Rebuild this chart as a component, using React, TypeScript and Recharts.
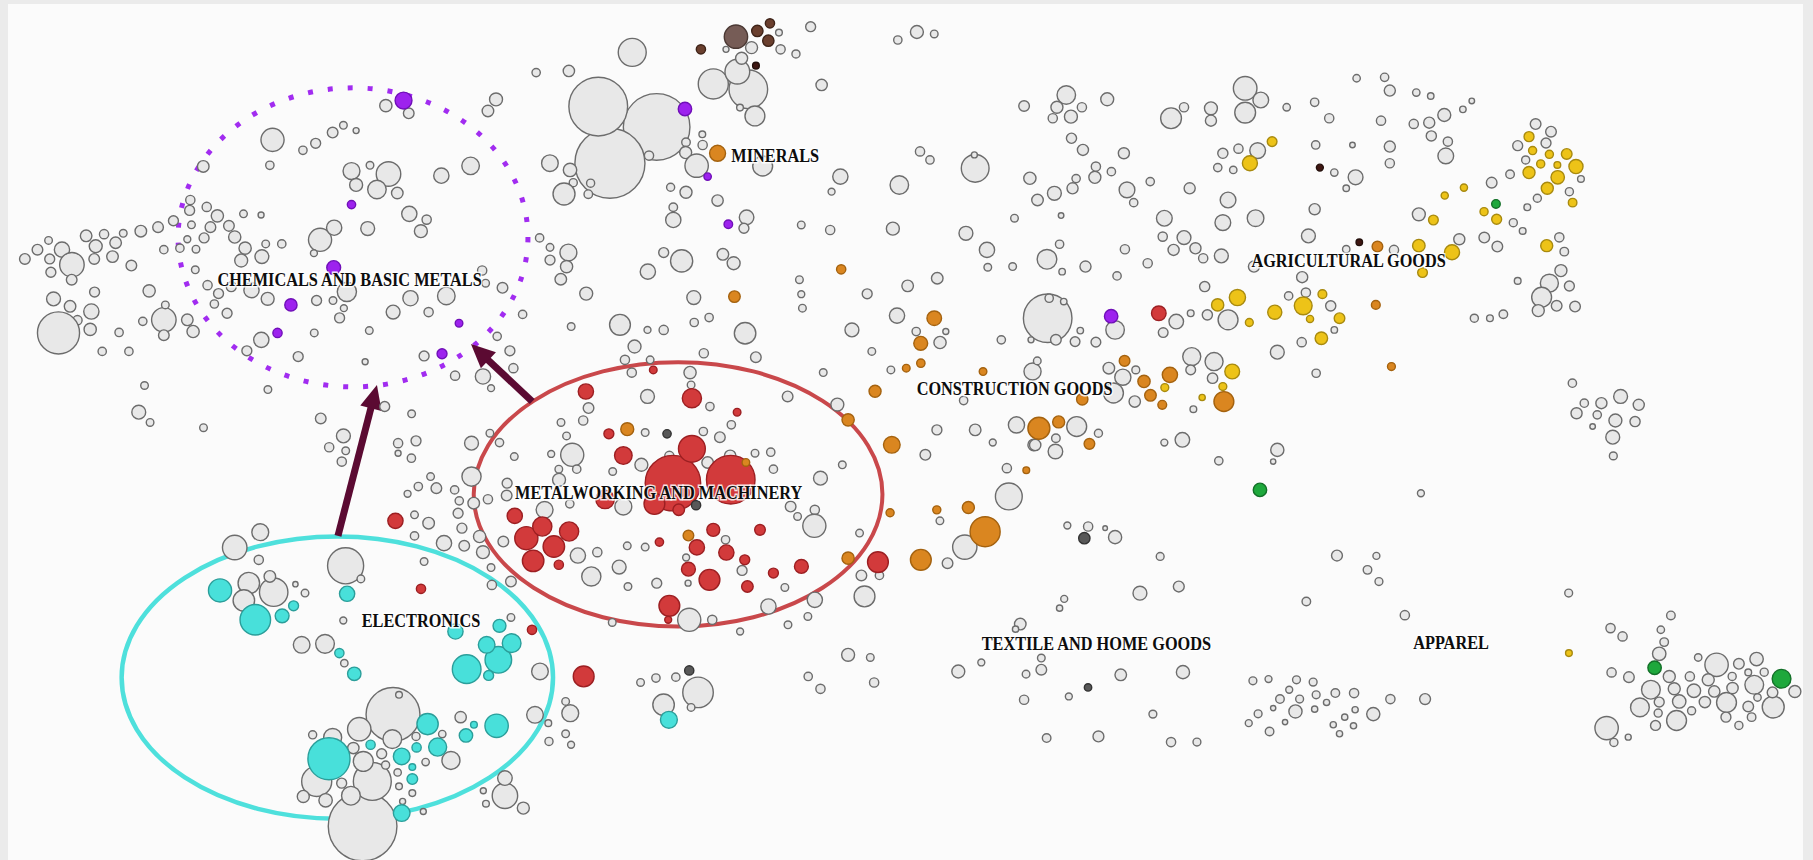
import React from 'react';
import { ScatterChart, Scatter, XAxis, YAxis, ZAxis, ReferenceArea, ReferenceLine } from 'recharts';

type T = [number, number, number];

// Positions (1568 x 744 reference units), r = bubble radius in the same units.
const GRAY_CHEMICALS: T[] = [
  [21.5,224,4.6],[32.4,216,4.6],[42,208,3.3],[43,224,4.3],[44,235.5,4.3],[53.6,216,6.6],[62.2,229,10.6],[62,242,4.6],[74.5,204,5],[82.8,213,5.6],[90,202.6,4],[81.5,224,4.6],[97.3,222,5],[100,210,5],[106.6,201.8,3.3],[113.6,229.7,4.6],[121.8,200,5],[136.7,196.5,4.6],[150,191,4.3],[141.7,216,3.6],[155.6,214.7,3.6],[162,207,3],[165.6,194.5,3.3],[169.5,215.6,3.3],[164,182,4.3],[164.6,173,4],[176.5,205.8,4.3],[178.8,179,4],[182,196.5,4.6],[188,186.7,5.3],[198,195.4,4.6],[203,205,5.3],[210.6,185,3.3],[225.8,186,2.6],[212,214.7,5.3],[208.6,225.4,5.6],[226.5,222,6],[229.8,211,3.3],[243.7,211,3.6],[168.9,233.4,3.3],[179.5,246.7,4],[189,254,4.3],[185.4,263,3.6],[196.4,271,4.3],[200,248,4.3],[217.5,251,6.6],[231.5,258.5,5.6],[276.8,207.5,10],[289,197,6.6],[271.5,219,3],[273.8,260,4.3],[288,260,3.3],[297.4,266.6,3],[293.7,275,4.3],[300,252.5,8.3],[318,197.7,6],[354,185,6.6],[369,190,4],[364,200,5.6],[355,258,6.6],[340,270,6],[370.7,270,4],[386,256,7.6],[417,234,4],[420,245,3.3],[434.6,249,4.6],[452,272,3.6],[466.7,205.8,3.6],[475.7,214,3.3],[475.7,225,4.3],[491.6,218.5,7.3],[490,230.6,5.3],[485,241.6,5],[507,254,5.6],[494,282.5,3.3],[430,291,3.6],[441,303.5,4.3],[444,318.5,4],[417.7,325.7,6.6],[424.7,335.8,3],[393.6,325,4],[366.8,307.9,4.3],[319.4,286,3.3],[315.8,313,2.6],[257.9,308.5,4.3],[271.8,288,3.3],[226,294,6.6],[213.5,303.5,4.3],[333.7,91.4,5.3],[353.5,98,4.6],[235.7,121,10],[233.4,143,3.6],[262,130,3.6],[273,124,4.3],[287.7,114.7,4.6],[297,108.4,3.3],[308,113,2.6],[304,148,7.3],[320,143,3.3],[336,150.5,10.6],[308,160,5.6],[326,164,8],[343.6,167,5],[381.7,152,6.6],[407,143.5,7.6],[463.7,62.8,3.6],[429,86,5.6],[422,96,5],[175.8,144,5],[46.3,258.6,6],[60.6,265,5],[79,269.5,6.6],[67,277,4],[78,285,5.3],[50.6,288,18.2],[81.8,252.7,4.3],[103,287.6,3.6],[88.4,304,3.6],[111.5,304,3.6],[123.5,278,3.6],[129,251.6,5.3],[141.7,276.7,10.6],[141.7,290,4.6],[143,263.8,3.3],[162,276.7,5],[167,286.8,5.3],[125,333.5,3.3],[120,356.6,6],[129.8,365.5,3.3],[176,370,3.3],[231.7,337,3.3],[277.4,362,4.6],[356,358,3.3],[332.7,351.7,4.3]
];

const GRAY_MINERALS: T[] = [
  [567.9,109.8,28.8],[527.5,141.2,30.3],[517.4,92.2,25.4],[546.8,45.3,12.1],[492,61.4,4.9],[475.6,141.2,7.2],[493,147,5.8],[495.8,158,3.5],[510.8,158.5,3.5],[508.8,168,3.7],[487.8,167.8,9.5],[561.3,134.6,4],[593.3,123.1,3.7],[607.4,116.2,2.9],[607.7,125.4,4],[593,132,5.2],[602.5,143.3,10.1],[659.6,143.6,8.6],[580,162,3.5],[593.3,166.3,5.2],[620.6,173.5,4.9],[582.3,179.3,3.7],[582.3,190.3,6.6],[645.7,188,6.3],[643.4,197.5,4.3],[647.2,77.3,16.7],[616.9,72.6,13],[637.7,62,10.7],[650,41.2,5.2],[627.9,42.7,2.6],[675.1,42.7,4],[688.4,46.7,3.5],[701.1,23.1,4.3],[641.4,50.4,5.2],[640,93.1,2.9],[652.9,100.3,8.6],[710.6,73.5,4.9],[673.7,28.2,2.9]
];

const GRAY_CENTER: T[] = [
  [776.5,34.6,3.6],[793,27.7,5.6],[808,29.4,3.3],[885.7,91.7,4.6],[795.7,131,4],[804.3,138.4,3.6],[726.8,152.8,6.6],[719.2,165.8,3],[777.8,160,8],[843.4,145.6,12],[842.7,134,2.6],[890.7,154.2,5.3],[897.3,173,5],[877.4,188.8,3.3],[693,194.6,3.3],[718,199,4],[772.2,197.8,5.6],[835.4,201.8,6],[853.6,216.2,6.6],[854.3,231.2,3.3],[875.8,230.6,3.3],[905.5,224.3,8.5],[574,218.5,4.3],[589.5,225.7,9.6],[560.3,235,6.6],[625.2,220,5],[634.5,227.7,5.6],[600,257.4,6],[691.4,242,3.3],[693,254.5,3],[694,266.6,3.3],[750,254.2,4.3],[785,247.3,5],[810.6,240.7,5],[536.2,281,9],[560,285.4,3],[574,285.4,4],[600.4,279,3.6],[613.3,274.7,3.6],[644.4,288.3,9.3],[736.8,285.4,6],[775.8,273,6.6],[792.4,286.8,3.6],[813,296.3,5.3],[818,286.8,2.6],[770.5,320,3.3],[866,294,3.6],[754,304,3.3],[712,322.3,3.3],[724.2,350,5.6],[681.2,343,4.6],[653.7,309,4.6],[608.7,305.6,4],[596.8,322.3,5.3],[597.7,333,3.3],[560,343,6],[548.8,299.8,5.6],[540.5,311.3,4],[562.3,311.3,3.3],[546.4,322.3,4],[509,353,4.6],[504.4,363.8,4],[485.2,365.5,3.3],[614,351.7,3.6],[632.5,367.5,3.6],
  [558,374.2,3.3],[608.3,373.3,3.6],[622.6,378.2,4.6],[554.7,402.1,5.6],[578.9,394.4,4],[612,400.1,5],[631.5,394.4,5],[653,392.1,3.3],[666.6,391.2,3.6],[668.9,405.9,3.6],[444.8,395,3.3],[529.9,407.9,3.3],[483.5,415.1,5.6],[438.2,428.7,4.6],[409.7,435.3,5],[516.6,477.7,4],[492.8,435.9,3.6],[539.1,438.2,7.3],[535.5,490.6,6],[543.1,507.4,3.3],[542.5,472.2,3.3],[558,473.3,3.3],[568,504.5,4.3],[593.4,482.3,3],[627.5,467,3.6],[595.1,504.5,2.6],[641.8,493.5,4.3],[678.8,508.2,3.3],[683.8,438.2,4.6],[689.8,446.8,3.3],[704.7,441.1,4],[704.3,454.9,10],[709.6,413.7,6],[728.5,402.1,3.3],[743.4,461.2,3.3],[745,497.8,4.6],[760.6,497.8,3.6],[747.7,516,9],[812.9,450.6,3.3],[834.4,473.3,10.5],[819.5,487.2,4.6],[800.3,393.5,4.6],[843.4,371.9,5],[810.3,371.9,4.3],[858.6,382.8,3],[879.1,367.6,7],[894,384.9,5],[870.8,405,4],[872.5,429.5,11.6],[833.4,346.5,3.6],[704.7,518.9,6.6],[664.6,524.7,6.6],[698.7,533.3,3.3],[681.5,540.5,3.3],[640.1,546.3,3],[616,536.2,4],[596.1,536.2,10],[529.5,538.5,3.3],[882.4,539.9,5],[733.5,566.5,5.6],[752.7,568.8,3.3],[756,590.4,4],[709.6,595.9,4],[699,585.2,3.6],[828.8,580.9,5.6],[848.7,573.1,3],[885.7,605.4,4],[900.6,569.3,3.3],[900.6,579.4,4.6],[887.4,583.2,3.3],[603.7,599,13.2],[573.9,609.7,9.3],[597.7,612,3.3],[554,590.4,3.3],[567.3,586.6,3.6],[584.5,585.8,3.6]
];

const GRAY_NORTHEAST: T[] = [
  [906.1,275.3,21],[922.2,82.2,8],[914.1,92.8,5.2],[926.2,100.9,5.6],[910.5,102.3,4],[935.7,92.8,4],[957.6,85.9,5.6],[1012.8,102.3,9],[1024,92.8,4],[1047.3,93.7,5.6],[1047.3,104.4,4.8],[1076.9,76.4,10.2],[1090.4,86.5,6.8],[1076.9,97.4,9],[1112.8,92.8,3.2],[1137,88.5,3.6],[1149.6,102.3,4],[1173.3,67.7,3.2],[1197.5,66.9,3.6],[1202,78.4,4.8],[1224.9,80.1,3.2],[1237.4,83,2.8],[1194.4,104.4,4],[1222.7,107.2,4],[1236.1,106.1,4.8],[1249.1,99.5,5.6],[1265.2,94.6,2.8],[1272.9,87.3,2.4],[926.7,119.6,4.4],[936.6,129.7,4.8],[972,132.6,4.8],[1057.6,132.6,4.4],[1071.1,128.6,4],[1087.7,130.3,6.8],[1053.2,145,3.6],[1066.6,147,3.2],[1137.9,125.4,3.6],[1169.7,125.4,2.4],[1202,126.8,4.8],[1202,141.2,4],[1237.9,117.6,4.4],[1252.2,122.5,4],[1250.4,134.9,6.8],[1154,149.3,3.2],[1172.4,153.4,6.4],[1164.3,162.9,2.8],[911.9,167.2,6],[927.6,162.9,4.8],[930.7,154.5,3.6],[946.9,153.4,5.2],[947.8,144.1,4],[961.2,148.5,3.6],[974.7,164.3,6.8],[980.5,175.3,3.6],[994.8,157.1,3.6],[1028.9,162.9,4.8],[1062.1,173,6.8],[1007,188.8,6.8],[1057.6,192.6,6.8],[1085.9,188.8,7.2],[1137,181,4.8],[917.7,186.5,2.4],[916.4,211.3,3.6],[918.6,235,2.8],[938.8,230.6,4.8],[966.1,238.7,3.6],[972.9,215.6,4],[992.6,227.7,4],[1005.6,204.7,4],[1024,205.5,6],[1015,216.2,4.8],[1033.9,214.8,4.8],[1040.6,223.4,4],[1056.3,221.4,6],[1131.6,204.1,6],[1126.2,239.8,4.8],[1084.5,230.6,4.8],[1164.3,215.6,3.2],[1205.6,216.2,4],[1262.1,207,4.8],[1227.1,185.4,5.6],[1041.9,247.9,4.4],[1062.1,276.7,8.6],[1044.2,272.4,4.4],[1114.5,256,3.6],[1129.4,253.1,4],[1150.9,264.6,4.4],[1154,285.4,2.8],[1125.8,296,4],[1104.7,304.7,6],[1138.3,322.9,3.6],[907.4,258,3.6],[920,260.9,2.8],[934.3,286,2.8],[929.8,295.5,4.2],[947.8,296,4.2],[913.2,294,4.6],[891.7,294,2.6],[964.4,285.4,8],[1017.3,278.2,6.3],[1006,287.7,4.2],[1029.8,271,2.9],[959,318.5,5],[982.3,320,3.4],[971.1,326.3,7],[1030.7,308.5,7.8],[1029.8,320,4.2],[1050,312.8,7.8],[1048.7,327.2,4.5],[1032.1,354,2.9],[981.4,347.4,4.9],[963,340,8.6],[893,321.4,7.4],[897.1,312.2,3.3],[931.2,369,8.6],[1359.9,331.5,3.6],[1370.2,348.8,3.6],[1363.5,357.5,4.8],[1385,348.8,4.8],[1401.6,343,6],[1417.3,350.2,4.8],[1381.4,358.9,3.6],[1397.1,363.8,5.6],[1414.1,364.7,4.4],[1377.4,369,2.4],
  [1328.1,107.3,4.6],[1341.4,113.9,4.6],[1312.6,126,4.3],[1337.1,123.7,4.3],[1319.5,138.4,3.5],[1306,150.8,3.7],[1367.3,154.8,2.9],[1290.1,158,4.6],[1357.3,165.8,3.5],[1329.6,171.5,3.5],[1320.9,179.3,2.9],[1308.8,192.6,3.5],[1316.9,199.8,2.9],[1283.7,205.5,4.6],[1295,213.3,4.6],[1348.6,205.3,4],[1352.9,217.7,3.7],[1350,234.1,5.2],[1340,245,7.8],[1333.3,257.1,8.6],[1357.3,247.4,4.3],[1346.3,264.6,4.6],[1362.2,265.2,4.6],[1330.4,268.7,5.2],[1312.6,243,2.9],[1300.2,271.9,3.7],[1288.6,275.3,2.9],[1275.1,275.3,3.5]
];

const GRAY_SOUTHEAST: T[] = [
  [950,374.8,3.5],[912.8,390.6,6.3],[895.3,384.9,4.9],[913.2,379.1,3.7],[1007,382.9,3],[1022.6,380.5,6.3],[1054.1,398.7,3.6],[1104.7,389.2,5.7],[1101.1,399.3,2.3],[1228.9,426.7,3],[1394.8,378.2,6],[1395.3,394.4,3.4],[923.1,454.6,3],[941.1,455.5,4],[955.8,456.9,2],[964.4,464.7,5.7],[1003.4,481.4,3.4],[985.9,513.2,6],[1019.5,507.4,4.7],[920.4,518.1,3],[916.4,526.1,2.7],[1156.3,480.6,4.7],[1190.4,480.9,3],[1182.7,493,3.7],[1192.6,503.1,3.4],[1129.8,520.4,3.7],[1215,532.2,4],[1356.7,513.1,3.4],[1083.6,589,3.4],[1097.1,587.5,3],[1121.3,588.1,3.4],[1135.7,590.1,3.4],[1115,596.7,3],[1107,604.8,3.7],[1124,604.8,3.4],[1138.3,601.1,3.4],[1154.9,599.6,3.7],[1171.1,599.6,4],[1202.5,604.8,4],[1232.5,604.8,4.7],[1101.1,612.6,2.3],[1088.1,617.5,3.4],[1080,625.6,3],[1120.4,615.5,5.7],[1137,613.5,2.7],[1147.3,607.7,2.7],[1111.4,624.7,2.3],[1098,632.8,3.7],[1163,620.4,2.7],[1153.1,627,2.7],[1172,614,2.7],[1170.6,627.9,2.7],[1187.7,617.8,5.7],[1158.5,634.8,2.7],[969.3,583.8,5],[1023.1,581.5,5.7],[924.4,602.5,3],[997.1,617.8,3.4],[905.2,638.5,3.7],[950,637.1,4.7],[1012.8,642,4],[1035.2,642,3.4],[878.3,544.3,2.7]
];

const GRAY_APPAREL: T[] = [
  [1484.6,575.1,10.1],[1389.5,629.9,10.1],[1533.6,611.7,9.5],[1445.1,532.4,3.7],[1392.9,543.4,4],[1403.3,550.6,4],[1436.4,544.8,3.2],[1439.3,555.5,3.7],[1435,565.6,5.8],[1393.8,581.7,4],[1408.8,585.8,4.6],[1443.7,585.2,5.2],[1427.8,596.7,8.1],[1448,595.9,5.2],[1435,607.4,4.3],[1418.3,612,8.1],[1434.1,616.9,3.5],[1431.8,627.6,4.3],[1452.3,606.8,5.8],[1450,623.3,8.6],[1461.5,585.2,4],[1468.7,568.8,3.2],[1477.4,588.1,5.2],[1465,597.6,5.8],[1482.6,598.2,4.9],[1474.5,607.4,4.9],[1463,614.9,3.5],[1493.2,607.7,8.6],[1492.7,620.4,4.3],[1498.4,595.3,4.9],[1498.1,585.2,3.5],[1503.9,574.3,4.6],[1519.2,570.2,5.8],[1512,581.7,2.9],[1525.8,581.5,3.5],[1517.2,592.4,8.1],[1552.3,598.2,5.2],[1533,599,4.6],[1520,603.4,3.2],[1512,611.2,4.6],[1514.9,620.4,3.7],[1503.9,627.6,3.5],[1395.8,642.3,3.5],[1408.2,637.7,2.6]
];

const GRAY_ELECTRONICS: T[] = [
  [313.6,714.9,29.7],[339.9,618.1,23.3],[322,676,16.4],[298.9,489.5,15.6],[273.9,676,13],[236.7,512.3,12.3],[203,473.7,10.6],
  [297,377.1,6],[284.7,386.9,4],[299,390,3.3],[295.6,399.3,4],[344.3,383.4,4],[359.8,381.4,4.3],[344.3,392.1,2.6],[355.8,396.4,3.6],[407.8,383.4,6],[423.7,374.8,3.3],[432,382.9,3.6],[372.4,412.3,3.3],[361.8,420.9,3.6],[352.5,427.2,3],[377.4,422.3,4.6],[393.2,423.8,3.6],[407.8,412.3,8.3],[397.2,433.3,3.6],[396.2,444,4.3],[399.5,456.9,4.3],[401.5,472.2,4.6],[384,469.9,6.6],[422,431.9,4],[414.8,464.1,5.3],[417.7,477.7,5.6],[424.7,491,3.3],[425.4,506,4],[441.9,503.1,4.6],[358.5,445.4,3.3],[370.7,452.6,5],[358.5,463.6,3.6],[366.8,485.8,3.3],[435.3,468.5,4.6],[438.6,418,4.3],[471,441.1,7.3],[494.9,393.5,10],[476.7,392.7,3],[490,377.1,3.3],[483.3,405.9,3.3],[498.8,405.9,3.6],[499.8,480.6,6.6],[511.4,498.7,8.3],[225.1,460.4,7.3],[223.8,484.3,4],[215.2,504.5,9.3],[210.9,519.5,9.3],[233.4,498.7,5],[255.5,505.4,2.3],[263.8,513.1,3.3],[312.1,500.8,3.3],[296.9,536.8,3],[260.9,557.8,7.2],[281.1,557,8.1],[297.8,573.7,3.2],[441.9,534.2,3.3],
  [345.1,601.1,2.9],[398.4,620.4,4.9],[390,657.9,7.8],[382.5,635.1,3.2],[359.8,637.1,3.5],[368.1,659.3,3.2],[339.3,639.4,8.1],[310.7,630.8,10.1],[287.7,638,7.8],[270.4,635.7,3.5],[305.6,647.2,4.9],[330.1,652.1,4.3],[333.5,661.9,3.5],[314.2,658.7,8.6],[343.9,668.2,3.2],[345.1,680.3,2.9],[356.6,686.1,2.9],[348.2,693.3,2.6],[366.1,702,2.6],[295.5,677.5,4.3],[303.5,688.4,8.1],[281.6,692.4,5.8],[262.3,689,5.2],[436.7,688.4,11],[436.7,673.1,6.3],[452.6,699.1,5.2],[418,684.1,2.6],[420.3,695.3,2.9],[467,580.9,7.2],[462.7,618.4,7.2],[474.2,625.6,2.9],[474.8,641.4,3.5],[493.2,617,7.3],[489.2,606.8,3.3],[489.2,634.8,3.3],[493.9,644.3,3]
];

const PURPLE: T[] = [
  [349,87,7.3],[304,177,3.6],[288.6,231.5,6],[251.6,263.8,5.3],[240,288,4],[397,279.6,3.3],[382.3,306,4.3],[592.4,94.3,5.8],[612,152.8,3.2],[629.9,194,3.7],[961,273.5,5.8]
];

const RED: T[] = [
  [582,418,24],[632,415,21],[598.4,388.3,11.6],[506.7,338.7,6.6],[565,320,3.3],[598.4,344.5,8.3],[637.5,356.6,3.3],[526.6,375.3,4.3],[539.1,394.1,7.6],[566,436,9],[587,441,5],[523.3,432,8],[342,450.6,6.6],[364.1,509.4,4],[445.2,446.3,6.6],[455.2,465.6,10],[469,455.5,8.3],[492.2,459.8,8.3],[479,472.8,9.3],[461.1,485.2,9.3],[483.3,488.6,4],[460.1,544.9,4],[504.8,585.2,9],[570.3,469,3.6],[602.7,473.6,6.6],[616.9,458.4,5.6],[628.2,478,6.6],[644.1,484.3,4.3],[595.4,492.4,6],[613.6,501.6,9],[646.4,507.4,5],[657.3,458.4,4.6],[668.9,495.8,4.3],[693.1,490,6],[759.3,486.3,9],[578.9,524.1,9],[577.9,536.2,3],[1002.2,271,6.3]
];

const CYAN: T[] = [
  [284.5,656.4,18.2],[220.8,536.2,13.2],[403.6,578.9,12.4],[431,570.8,11.5],[190.3,510.8,10],[429.5,627.9,10.1],[369.8,626.4,9.2],[244,532.8,6],[253.9,524.1,4.3],[300.2,513.7,6.6],[293.5,565,4],[306.4,582.9,5.8],[393.9,546.3,6.6],[432,541.4,5.6],[442.5,556.4,8.1],[420.9,557.8,7.2],[422.6,584.3,4.3],[409.9,627,2.9],[403,636.2,5.8],[378.5,646.3,7.8],[360.3,646.6,4],[347.4,654.4,7.2],[320.5,644.3,4],[356.6,663.6,2.9],[356.6,674,4.6],[347.4,703.4,7.2],[578.5,622.7,7.3]
];

const ORANGE: T[] = [
  [852,460,13],[620.6,132.6,6.9],[635.2,256.6,5],[727.5,233,4],[808,275.3,6.3],[796.3,297,6],[796.4,314.2,3.6],[783.8,318.5,3.3],[850.2,321.4,3.3],[756.8,338.5,5.2],[733.5,363.2,5.3],[542.5,371.3,5.6],[645.1,400.1,3.3],[595.4,463.3,4.6],[733.5,482.9,5.3],[769.8,443.6,3.5],[796.4,484.3,9],[810.2,441.1,3.5],[837.5,439,5.2],[771.3,384.8,7.2],[887.6,406.8,2.9],[898.5,370.5,9.5],[942.2,384,4.6],[915.6,365,5.2],[972.6,312.2,4.6],[989.4,330,5.3],[1011.8,324.3,6.6],[1058.5,347.4,8.6],[995,342,5],[1005.2,350.2,3.8],[936,345.5,4.9],[1189.9,263.8,3.8],[1203.4,317.1,3.4],[1191.3,213.3,4.6]
];

const YELLOW: T[] = [
  [1322.4,118.2,4.3],[1325.5,130.3,3.5],[1340,133.5,3.5],[1355,133.2,4.6],[1332.5,141.8,3.5],[1346.9,142.7,2.9],[1363,144.1,6.1],[1322.4,149.3,5.2],[1347.2,153.4,5.8],[1338.2,162.9,5.2],[1360.1,175.3,3.7],[1283.5,183.1,3.5],[1294.4,189.7,4.3],[1337.7,212.5,5.2],
  [1081,141.2,6.5],[1100.2,122.5,4.2],[1227.1,212.5,5.4],[1255.8,218.2,6.5],[1230.3,235.8,4.2],[1249.5,169.2,3.1],[1266.1,162.3,3.1],[1239.7,190.3,4.2],[1070.2,257.4,7],[1053.1,263.8,5.3],[1080.5,279,3.4],[1102.5,270.1,6.1],[1143.7,254.5,3.8],[1127.1,264.6,7.7],[1133,275.9,3.1],[1158.5,275.3,4.6],[1142.8,292.6,5.4],[1065.7,321.4,6.4],[1057.6,334.4,3.4],[1039.7,343.9,2.7],[1007.4,335.3,3.4],[1356.9,565,2.9]
];

const GREEN: T[] = [[1089.7,423.8,5.8],[1293.8,176.4,3.7],[1431,577.7,5.8],[1540.8,587.2,8.1]];
const BROWN: T[] = [[636.5,31.7,10.1]];
const DARK_BROWN: T[] = [[655,26.8,4.9],[665.9,20.2,4],[664.5,35.2,4.9],[606.2,42.7,4]];
const DEEP_BROWN: T[] = [[653.8,56.8,2.9],[1141.5,145,3],[1175.6,209.6,2.8]];
const DARK_GRAY: T[] = [[576.9,375.3,3.6],[602,437,4],[596.1,580,4],[937.8,465.6,4.9],[941,594.7,3.2]];

const LABEL_TEXT = ['CHEMICALS AND BASIC METALS', 'MINERALS', 'CONSTRUCTION GOODS', 'AGRICULTURAL GOODS', 'METALWORKING AND MACHINERY', 'ELECTRONICS', 'TEXTILE AND HOME GOODS', 'APPAREL'];
const LABEL_X = [188, 632.5, 792.8, 1082.3, 445.5, 312.8, 849, 1222.2];
const LABEL_Y = [241.6, 134, 335.8, 224.9, 425.8, 536.8, 556.4, 555.8];

// Highlight rings (bounding boxes in reference units)
const RING_X1 = [154, 409.7, 105.2];
const RING_X2 = [456.6, 763.2, 478.3];
const RING_Y1 = [76, 313.3, 464.1];
const RING_Y2 = [334.7, 542, 708.3];

// Arrows: tail -> tip
const ARROW_X1 = [292.3, 460.3];
const ARROW_Y1 = [463.5, 347.4];
const ARROW_X2 = [326, 407.3];
const ARROW_Y2 = [333, 297.5];

const pts = (a: T[]) => a.map(([x, y, r]) => ({ x, y, r }));

const bubble = (fill: string, stroke: string, sw = 1.4) => (p: any) => {
  if (p == null || p.cx == null || p.cy == null) return <g />;
  const rr = typeof p.size === 'number' && isFinite(p.size) ? p.size : (p.width || 0) / 2;
  return <circle cx={p.cx} cy={p.cy} r={rr} fill={fill} stroke={stroke} strokeWidth={sw} />;
};

const labelShape = (p: any) => {
  if (p == null || p.cx == null) return <g />;
  return (
    <g transform={`translate(${p.cx},${p.cy}) scale(1,1.18)`}>
      <text
        x={0}
        y={0}
        dy="0.35em"
        textAnchor="start"
        fontFamily="'Liberation Serif', 'Times New Roman', serif"
        fontWeight={700}
        fontSize={16.3}
        fill="#0d0d0d"
        stroke="#ffffff"
        strokeWidth={2.5}
        strokeOpacity={0.85}
        paintOrder="stroke"
      >
        {p.payload.t}
      </text>
    </g>
  );
};

const ringShape = (stroke: string, sw: number, dash?: string) => (p: any) => {
  const w = Math.abs(p.width), h = Math.abs(p.height);
  const x = Math.min(p.x, p.x + p.width), y = Math.min(p.y, p.y + p.height);
  return (
    <ellipse cx={x + w / 2} cy={y + h / 2} rx={w / 2} ry={h / 2} fill="none" stroke={stroke} strokeWidth={sw} strokeDasharray={dash} />
  );
};

const ARROW_COLOR = '#5b0a32';
const arrowShape = (p: any) => {
  const { x1, y1, x2, y2 } = p;
  const dx = x2 - x1, dy = y2 - y1;
  const len = Math.hypot(dx, dy) || 1;
  const ux = dx / len, uy = dy / len;
  const head = 24, half = 11;
  const bx = x2 - ux * head, by = y2 - uy * head;
  return (
    <g>
      <line x1={x1} y1={y1} x2={bx + ux * 2} y2={by + uy * 2} stroke={ARROW_COLOR} strokeWidth={7} />
      <polygon points={`${x2},${y2} ${bx - uy * half},${by + ux * half} ${bx + uy * half},${by - ux * half}`} fill={ARROW_COLOR} />
    </g>
  );
};

const GRAY_FILL = '#e8e8e8';
const GRAY_STROKE = '#6c6c6c';

export default function App() {
  const labels = LABEL_TEXT.map((t, i) => ({ x: LABEL_X[i], y: LABEL_Y[i], t }));
  const ringStyles = [
    ringShape('#a12cf0', 5, '5 15'),
    ringShape('#c9484b', 4),
    ringShape('#4ee0dc', 4.5),
  ];
  return (
    <div style={{ position: 'fixed', left: 0, top: 0, width: 1813, height: 860, background: '#ebebeb', overflow: 'hidden' }}>
      <div style={{ position: 'absolute', left: 8, top: 4, width: 1795, height: 856, background: '#fbfbfb' }} />
      <div style={{ position: 'absolute', left: 0, top: 0 }}>
        <ScatterChart width={1813} height={860} margin={{ top: 0, right: 0, bottom: 0, left: 0 }}>
          <XAxis type="number" dataKey="x" domain={[0, 1568]} hide allowDataOverflow />
          <YAxis type="number" dataKey="y" domain={[0, 744]} reversed hide allowDataOverflow />
          <ZAxis type="number" dataKey="r" domain={[0, 100]} range={[0, 115.63]} />
          <Scatter data={pts(GRAY_CHEMICALS)} shape={bubble(GRAY_FILL, GRAY_STROKE)} isAnimationActive={false} />
          <Scatter data={pts(GRAY_MINERALS)} shape={bubble(GRAY_FILL, GRAY_STROKE)} isAnimationActive={false} />
          <Scatter data={pts(GRAY_CENTER)} shape={bubble(GRAY_FILL, GRAY_STROKE)} isAnimationActive={false} />
          <Scatter data={pts(GRAY_NORTHEAST)} shape={bubble(GRAY_FILL, GRAY_STROKE)} isAnimationActive={false} />
          <Scatter data={pts(GRAY_SOUTHEAST)} shape={bubble(GRAY_FILL, GRAY_STROKE)} isAnimationActive={false} />
          <Scatter data={pts(GRAY_APPAREL)} shape={bubble(GRAY_FILL, GRAY_STROKE)} isAnimationActive={false} />
          <Scatter data={pts(GRAY_ELECTRONICS)} shape={bubble(GRAY_FILL, GRAY_STROKE)} isAnimationActive={false} />
          <Scatter data={pts(PURPLE)} shape={bubble('#9d22ee', '#7010b8')} isAnimationActive={false} />
          <Scatter data={pts(RED)} shape={bubble('#d23a3b', '#9c1f22')} isAnimationActive={false} />
          <Scatter data={pts(CYAN)} shape={bubble('#48e0da', '#2b9e9a')} isAnimationActive={false} />
          <Scatter data={pts(ORANGE)} shape={bubble('#da8620', '#a4620f')} isAnimationActive={false} />
          <Scatter data={pts(YELLOW)} shape={bubble('#edc318', '#a88a0f')} isAnimationActive={false} />
          <Scatter data={pts(GREEN)} shape={bubble('#1ea83c', '#137028')} isAnimationActive={false} />
          <Scatter data={pts(BROWN)} shape={bubble('#765c56', '#4a3833')} isAnimationActive={false} />
          <Scatter data={pts(DARK_BROWN)} shape={bubble('#6a3f2e', '#3e2318')} isAnimationActive={false} />
          <Scatter data={pts(DEEP_BROWN)} shape={bubble('#3f1712', '#24100c')} isAnimationActive={false} />
          <Scatter data={pts(DARK_GRAY)} shape={bubble('#585858', '#333333')} isAnimationActive={false} />
          {RING_X1.map((x1, i) => (
            <ReferenceArea key={'ring' + i} x1={x1} x2={RING_X2[i]} y1={RING_Y1[i]} y2={RING_Y2[i]} ifOverflow="visible" shape={ringStyles[i]} />
          ))}
          {ARROW_X1.map((x1, i) => (
            <ReferenceLine key={'arrow' + i} segment={[{ x: x1, y: ARROW_Y1[i] }, { x: ARROW_X2[i], y: ARROW_Y2[i] }]} ifOverflow="visible" shape={arrowShape} />
          ))}
          <Scatter data={labels} shape={labelShape} isAnimationActive={false} />
        </ScatterChart>
      </div>
    </div>
  );
}
